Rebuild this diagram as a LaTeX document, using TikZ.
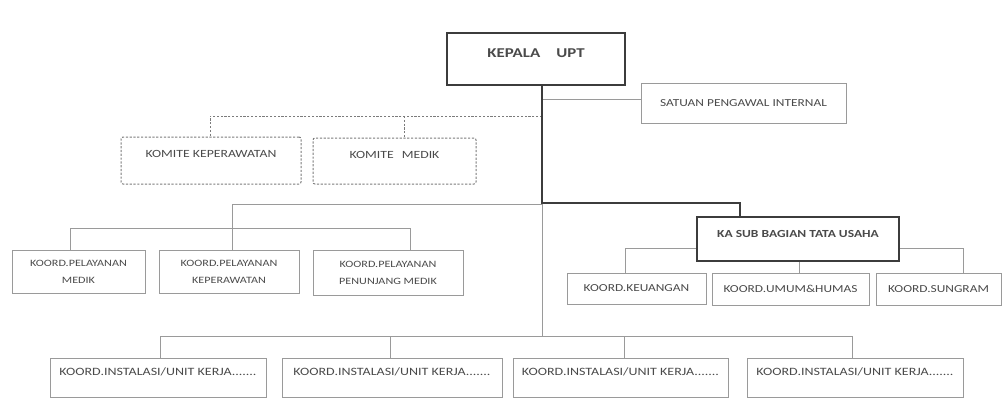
\documentclass[tikz,border=0pt]{standalone}
\usepackage{fontspec}
\setmainfont{Carlito}
\newfontfamily\cf[FakeStretch=1.25]{Carlito}
\usetikzlibrary{calc}
\definecolor{txt}{HTML}{4A4A4A}
\definecolor{thin}{HTML}{9A9A9A}
\definecolor{thick}{HTML}{3C3C3C}
\tikzset{
  box/.style={draw=thin, line width=0.9pt, rectangle, inner sep=0pt, text=txt, font=\cf\fontsize{10.7}{17}\selectfont, align=center},
  bigbox/.style={draw=thick, line width=2.4pt, rectangle, inner sep=0pt, text=txt, font=\cf\bfseries\fontsize{10.8}{12}\selectfont, align=center},
  dbox/.style={draw=thin!80!black, line width=1pt, dash pattern=on 2.2pt off 1.6pt, rounded corners=2pt, rectangle, inner sep=0pt, text=txt, font=\cf\fontsize{11}{13}\selectfont, align=center},
  ln/.style={draw=thin, line width=0.9pt},
  tln/.style={draw=thick, line width=2.2pt},
  dln/.style={draw=thin!80!black, line width=1pt, dash pattern=on 2.2pt off 1.6pt},
}
\begin{document}
\begin{tikzpicture}[x=1pt,y=-1pt]
\useasboundingbox (0,0) rectangle (1003,408);
% boxes
\node[bigbox, font=\cf\bfseries\fontsize{13.5}{16}\selectfont, minimum width=178pt, text height=24.5pt, text depth=27.5pt] (kepala) at (536,59) {KEPALA\hspace{16pt}UPT};
\node[box, minimum width=205pt, minimum height=40pt] (spi) at (743.5,103) {SATUAN PENGAWAL INTERNAL};
\node[dbox, minimum width=180pt, text height=20pt, text depth=27pt] (kkep) at (211,160.5) {KOMITE KEPERAWATAN};
\node[dbox, minimum width=163pt, text height=20pt, text depth=26pt] (kmed) at (394.5,161) {KOMITE\hspace{8pt}MEDIK};
\node[box, font=\cf\fontsize{9.7}{17}\selectfont, minimum width=133pt, minimum height=43pt] (pm) at (78.5,271.5) {KOORD.PELAYANAN\\MEDIK};
\node[box, font=\cf\fontsize{9.7}{17}\selectfont, minimum width=140pt, minimum height=43pt] (pk) at (229,271.5) {KOORD.PELAYANAN\\KEPERAWATAN};
\node[box, font=\cf\fontsize{9.7}{17}\selectfont, minimum width=150pt, minimum height=45pt] (ppm) at (388,272.5) {KOORD.PELAYANAN\\PENUNJANG MEDIK};
\node[bigbox, minimum width=202pt, text height=20pt, text depth=24pt] (kasub) at (798,239) {KA SUB BAGIAN TATA USAHA};
\node[box, minimum width=139pt, minimum height=31pt] (keu) at (636.5,288.5) {KOORD.KEUANGAN};
\node[box, minimum width=157pt, minimum height=32pt] (umum) at (790.5,289) {KOORD.UMUM\&HUMAS};
\node[box, minimum width=125pt, minimum height=32pt] (sung) at (938.5,289) {KOORD.SUNGRAM};
\node[box, font=\cf\fontsize{11.2}{13}\selectfont, minimum width=216pt, text height=17pt, text depth=22pt] (b1) at (158,377.5) {KOORD.INSTALASI/UNIT KERJA.......};
\node[box, font=\cf\fontsize{11.2}{13}\selectfont, minimum width=220pt, text height=17pt, text depth=22pt] (b2) at (392,377.5) {KOORD.INSTALASI/UNIT KERJA.......};
\node[box, font=\cf\fontsize{11.2}{13}\selectfont, minimum width=215pt, text height=17pt, text depth=22pt] (b3) at (620.5,377.5) {KOORD.INSTALASI/UNIT KERJA.......};
\node[box, font=\cf\fontsize{11.2}{13}\selectfont, minimum width=216pt, text height=17pt, text depth=22pt] (b4) at (855,377.5) {KOORD.INSTALASI/UNIT KERJA.......};
% junction coordinates
\coordinate (top) at (542,85);
\coordinate (jspi) at (542,99);
\coordinate (jd) at (542,116);
\coordinate (jd1) at (210,116);
\coordinate (jd2) at (404,116);
\coordinate (jmain) at (542,203);
\coordinate (jks) at (740,203);
\coordinate (jp) at (232,204);
\coordinate (jpl) at (70,228);
\coordinate (jpr) at (410,228);
\coordinate (jbot) at (542,336);
\coordinate (jb1) at (160,336);
\coordinate (jb2) at (390,336);
\coordinate (jb3) at (624,336);
\coordinate (jb4) at (852,336);
\coordinate (jkl) at (625,248);
\coordinate (jkr) at (963,248);
\coordinate (jkm) at (799,261);
% connectors
\draw[ln] (jspi) -- (spi.west |- jspi);
\draw[dln] (jd) -- (jd1) -- (kkep.north -| jd1);
\draw[dln] (jd2) -- (kmed.north -| jd2);
\draw[ln] (jmain) -- (jbot);
\draw[ln] (jmain |- jp) -- (jp) -- (pk.north -| jp);
\draw[ln] (pm.north -| jpl) -- (jpl) -- (jpr) -- (ppm.north -| jpr);
\draw[ln] (b1.north -| jb1) -- (jb1) -- (jb4) -- (b4.north -| jb4);
\draw[ln] (jb2) -- (b2.north -| jb2);
\draw[ln] (jb3) -- (b3.north -| jb3);
\draw[ln] (keu.north -| jkl) -- (jkl) -- (kasub.west |- jkl);
\draw[ln] (kasub.east |- jkr) -- (jkr) -- (sung.north -| jkr);
\draw[ln] (kasub.south -| jkm) -- (umum.north -| jkm);
\draw[tln] (kepala.south -| top) -- (jmain) -- (jks) -- (kasub.north -| jks);
\end{tikzpicture}
\end{document}
